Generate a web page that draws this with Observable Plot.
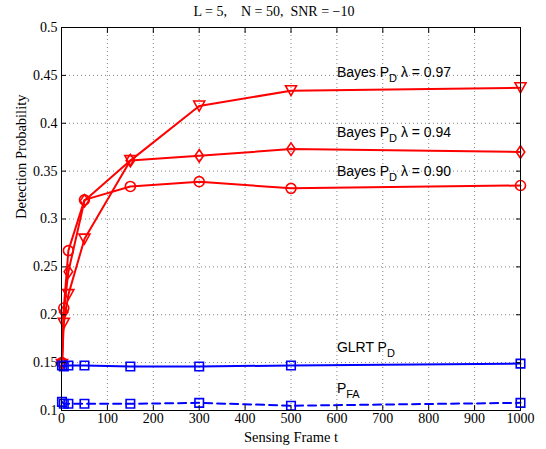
<!DOCTYPE html>
<html><head><meta charset="utf-8">
<script src="https://cdn.jsdelivr.net/npm/d3@7"></script>
<script src="https://cdn.jsdelivr.net/npm/@observablehq/plot@0.6"></script>
<style>body{margin:0;background:#fff}</style>
</head><body><div id="chart"></div>
<script>
// ---- data ----
const frames   = [1, 5, 15, 50, 150, 300, 500, 1000];
const bayes090 = [0.150, 0.207, 0.267, 0.320, 0.334, 0.339, 0.332, 0.335];
const bayes094 = [0.150, 0.203, 0.245, 0.319, 0.361, 0.366, 0.373, 0.370];
const bayes097 = [0.148, 0.191, 0.221, 0.279, 0.361, 0.418, 0.434, 0.437];
const glrtPD   = [0.147, 0.146, 0.147, 0.147, 0.146, 0.146, 0.147, 0.149];
const pFA      = [0.109, 0.107, 0.107, 0.107, 0.107, 0.108, 0.105, 0.108];
const xTicks = [0, 100, 200, 300, 400, 500, 600, 700, 800, 900, 1000];
const yTicks = [0.1, 0.15, 0.2, 0.25, 0.3, 0.35, 0.4, 0.45, 0.5];
const titleText = "L = 5,    N = 50,  SNR = \u221210";
const xLabel = "Sensing Frame t";
const yLabel = "Detection Probability";
const annotations = [
  {text: "Bayes P_{D} \u03bb = 0.97", x: 600, y: 0.448},
  {text: "Bayes P_{D} \u03bb = 0.94", x: 600, y: 0.386},
  {text: "Bayes P_{D} \u03bb = 0.90", x: 600, y: 0.345},
  {text: "GLRT P_{D}", x: 600, y: 0.161},
  {text: "P_{FA}", x: 600, y: 0.118}
];

// ---- marker shapes ----
const triDown = {draw(c, size) { const s = Math.sqrt(size / Math.PI); c.moveTo(-1.1*s, -s); c.lineTo(1.1*s, -s); c.lineTo(0, s); c.closePath(); }};
const diamond = {draw(c, size) { const s = Math.sqrt(size / Math.PI); c.moveTo(0, -1.25*s); c.lineTo(0.85*s, 0); c.lineTo(0, 1.25*s); c.lineTo(-0.85*s, 0); c.closePath(); }};
const square  = {draw(c, size) { const s = Math.sqrt(size / Math.PI) * 0.85; c.moveTo(-s, -s); c.lineTo(s, -s); c.lineTo(s, s); c.lineTo(-s, s); c.closePath(); }};

const series = [
  {name: "bayes097", values: bayes097, color: "#ff0000", symbol: triDown, dash: null},
  {name: "bayes094", values: bayes094, color: "#ff0000", symbol: diamond, dash: null},
  {name: "bayes090", values: bayes090, color: "#ff0000", symbol: "circle", dash: null},
  {name: "glrt", values: glrtPD, color: "#0000ff", symbol: square, dash: null},
  {name: "pfa", values: pFA, color: "#0000ff", symbol: square, dash: "8,5"}
];

const marks = [
  Plot.gridX({ticks: xTicks, stroke: "#666", strokeOpacity: 1, strokeWidth: 0.8, strokeDasharray: "1,3"}),
  Plot.gridY({ticks: yTicks, stroke: "#666", strokeOpacity: 1, strokeWidth: 0.8, strokeDasharray: "1,3"}),
];
for (const s of series) {
  const rows = frames.map((t, i) => ({t, v: s.values[i]}));
  marks.push(Plot.line(rows, {x: "t", y: "v", stroke: s.color, strokeWidth: 2, strokeDasharray: s.dash}));
  marks.push(Plot.dot(rows, {x: "t", y: "v", stroke: s.color, strokeWidth: 1.6, symbol: s.symbol, r: 5, fill: "none"}));
}
marks.push(
  Plot.frame({stroke: "black", strokeWidth: 1}),
  Plot.axisX({anchor: "bottom", ticks: xTicks, tickSize: -5, tickPadding: 8, fontSize: 14,
    tickFormat: d => String(d), label: null}),
  Plot.axisX({anchor: "top", ticks: xTicks, tickSize: -5, tickFormat: () => "", label: null}),
  Plot.axisY({anchor: "left", ticks: yTicks, tickSize: -5, tickPadding: 9, fontSize: 14,
    tickFormat: d => String(+d.toFixed(2)), label: null}),
  Plot.axisY({anchor: "right", ticks: yTicks, tickSize: -5, tickFormat: () => "", label: null}),
  Plot.text([xLabel], {text: d => d, frameAnchor: "bottom", lineAnchor: "bottom", dy: 31, fontSize: 14.5, fill: "black"}),
  Plot.text([yLabel], {text: d => d, frameAnchor: "left", lineAnchor: "middle", rotate: -90, dx: -40, fontSize: 14.5, fill: "black"}),
  Plot.text(annotations, {x: "x", y: "y", text: "text", textAnchor: "start", lineAnchor: "bottom",
    fontFamily: "Liberation Sans, Arial, sans-serif", fontSize: 14, fill: "black", className: "annot"}),
  Plot.text([titleText], {text: d => d, frameAnchor: "top", lineAnchor: "bottom", dy: -12, dx: -17,
    fontSize: 14, fill: "black", className: "ttl"})
);

const chart = Plot.plot({
  width: 546, height: 449,
  marginLeft: 61, marginRight: 26, marginTop: 27, marginBottom: 39,
  style: {fontFamily: "Liberation Serif, Times New Roman, serif", fontSize: "14px", background: "#fff", color: "black"},
  x: {domain: [0, 1000]},
  y: {domain: [0.1, 0.5]},
  marks
});
document.getElementById("chart").appendChild(chart);

// subscripts in annotations
d3.select(chart).selectAll("g.annot text").each(function () {
  const txt = this.textContent;
  const sel = d3.select(this);
  sel.text(null);
  const parts = txt.split(/(_\{[^}]*\})/);
  let shifted = false;
  for (const p of parts) {
    if (!p) continue;
    if (p.startsWith("_{")) {
      sel.append("tspan").attr("font-size", 11).attr("dy", 5).text(p.slice(2, -1));
      shifted = true;
    } else {
      const ts = sel.append("tspan").text(p);
      if (shifted) { ts.attr("dy", -5); shifted = false; }
    }
  }
});
d3.select(chart).selectAll("g.ttl text").style("white-space", "pre");
</script>
</body></html>
